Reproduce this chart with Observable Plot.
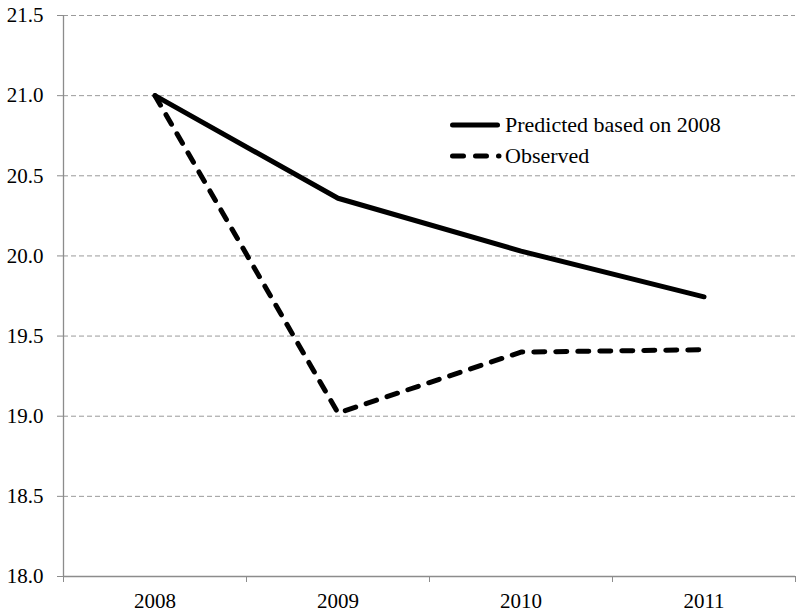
<!DOCTYPE html>
<html>
<head>
<meta charset="utf-8">
<script src="https://cdn.jsdelivr.net/npm/d3@7"></script>
<script src="https://cdn.jsdelivr.net/npm/@observablehq/plot@0.6"></script>
<style>
  html, body { margin: 0; padding: 0; background: #fff; }
  #wrap { position: relative; width: 800px; height: 615px; font-family: 'Liberation Serif', serif; }
  #chart svg, #chart svg text { font-family: 'Liberation Serif', serif !important; }
  #legend { position: absolute; left: 448px; top: 109px; font: 22px 'Liberation Serif', serif; color: #000; line-height: 31px; }
  #legend div { display: flex; align-items: center; white-space: nowrap; }
  #legend svg { margin-right: 1px; }
</style>
</head>
<body>
<div id="wrap"><div id="chart"></div><div id="legend"></div></div>
<script>
const years = [2008, 2009, 2010, 2011];
const predicted = [21.0, 20.36, 20.03, 19.745];
const observed = [21.0, 19.02, 19.40, 19.415];
const seriesNames = ["Predicted based on 2008", "Observed"];
const yTicks = [18.0, 18.5, 19.0, 19.5, 20.0, 20.5, 21.0, 21.5];

const rows = [
  ...years.map((yr, i) => ({year: yr, value: predicted[i], series: seriesNames[0]})),
  ...years.map((yr, i) => ({year: yr, value: observed[i], series: seriesNames[1]}))
];
const boundaries = [...years.map(y => y - 0.5), years[years.length - 1] + 0.5];
const xDomain = [boundaries[0], boundaries[boundaries.length - 1]];

const chart = Plot.plot({
  width: 800,
  height: 615,
  marginLeft: 63,
  marginRight: 5,
  marginTop: 15,
  marginBottom: 39,
  style: "font-family: 'Liberation Serif', serif; font-size: 21px; color: #000; background: #fff;",
  x: {domain: xDomain, label: null},
  y: {domain: [18, 21.5], label: null},
  marks: [
    Plot.ruleY(yTicks.filter(t => t > 18), {x1: xDomain[0], x2: xDomain[1], stroke: "#9a9a9a", strokeWidth: 1, strokeDasharray: "5,3"}),
    Plot.ruleY([18], {stroke: "#8c8c8c", strokeWidth: 1.3}),
    Plot.ruleX([xDomain[0]], {stroke: "#8c8c8c", strokeWidth: 1.3}),
    Plot.axisY({ticks: yTicks, tickFormat: d => d.toFixed(1), tickSize: 6, tickPadding: 14, stroke: "#8c8c8c", fill: "#000", fontSize: 21, label: null}),
    Plot.axisX({ticks: boundaries, tickFormat: () => "", tickSize: 6, stroke: "#8c8c8c", label: null}),
    Plot.axisX({ticks: years, tickFormat: d => String(d), tickSize: 0, tickPadding: 17, fill: "#000", fontSize: 21, label: null}),
    Plot.line(rows.filter(d => d.series === seriesNames[0]), {x: "year", y: "value", stroke: "#000", strokeWidth: 5, strokeLinejoin: "miter", strokeLinecap: "round"}),
    Plot.line(rows.filter(d => d.series === seriesNames[1]), {x: "year", y: "value", stroke: "#000", strokeWidth: 5, strokeDasharray: "11,11", strokeLinecap: "round"})
  ]
});
document.getElementById("chart").appendChild(chart);

const legend = document.getElementById("legend");
legend.innerHTML = `
  <div><svg width="56" height="10"><line x1="4.5" y1="5" x2="49.5" y2="5" stroke="#000" stroke-width="5" stroke-linecap="round"/></svg>${seriesNames[0]}</div>
  <div><svg width="56" height="10"><line x1="4.5" y1="5" x2="51" y2="5" stroke="#000" stroke-width="5" stroke-linecap="round" stroke-dasharray="11,12"/></svg>${seriesNames[1]}</div>`;
</script>
</body>
</html>
